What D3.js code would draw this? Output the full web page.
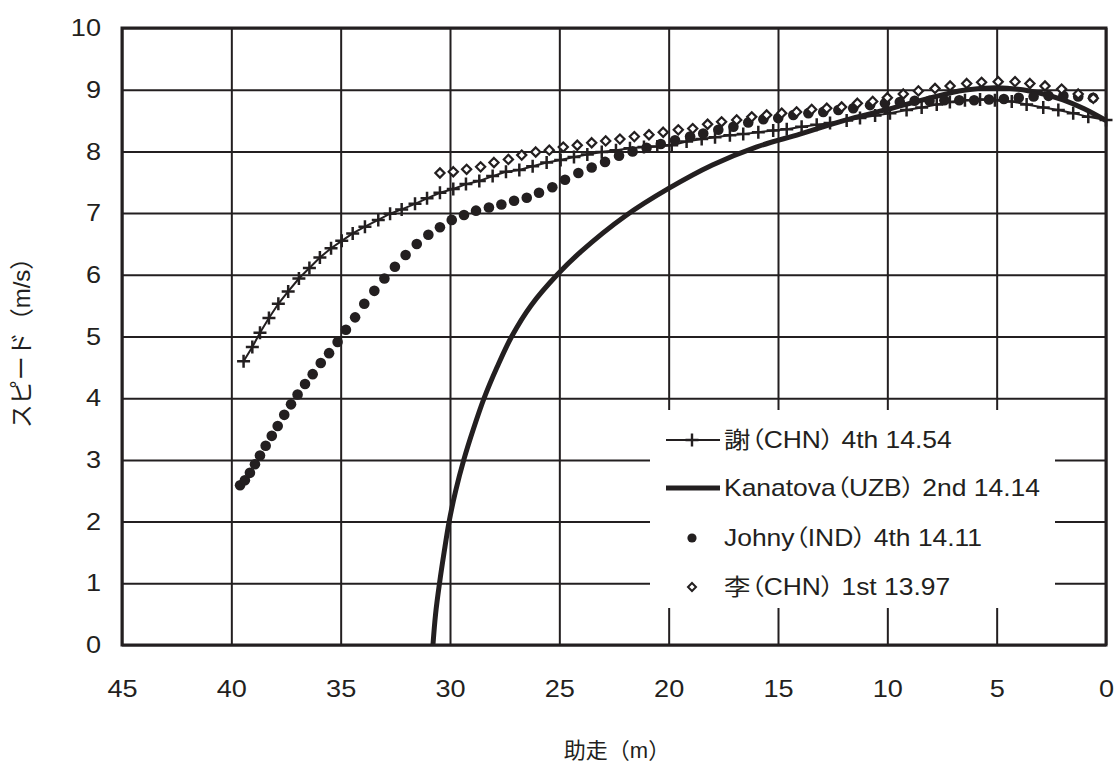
<!DOCTYPE html>
<html>
<head>
<meta charset="utf-8">
<script src="https://cdn.jsdelivr.net/npm/d3@7"></script>
<style>
  body { margin: 0; background: #fff; }
  svg { display: block; }
  text { font-family: "Liberation Sans", Arial, "Noto Sans CJK JP", sans-serif; fill: #231f20; }
</style>
</head>
<body>
<svg id="chart" width="1117" height="767"></svg>
<script>
// ---------- data ----------
const xTicks = [45, 40, 35, 30, 25, 20, 15, 10, 5, 0];
const yTicks = [0, 1, 2, 3, 4, 5, 6, 7, 8, 9, 10];

// 謝 (CHN) - line with + markers
const xieDist = [39.44,39.04,38.69,38.28,37.85,37.40,36.91,36.43,35.95,35.44,34.95,34.45,33.89,33.28,32.74,32.21,31.60,31.05,30.46,29.85,29.27,28.66,28.05,27.44,26.83,26.22,25.58,24.94,24.33,23.72,23.06,22.41,21.77,21.13,20.52,19.86,19.18,18.49,17.88,17.20,16.59,15.90,15.22,14.60,13.92,13.23,12.62,11.86,11.25,10.56,9.88,9.12,8.43,7.74,7.14,6.45,5.76,5.08,4.31,3.63,2.87,2.18,1.50,0.81,0.00];
const xieSpeed = [4.60,4.83,5.06,5.30,5.53,5.73,5.94,6.11,6.28,6.43,6.55,6.67,6.78,6.89,6.99,7.06,7.15,7.24,7.33,7.39,7.47,7.52,7.60,7.67,7.70,7.76,7.82,7.86,7.91,7.95,7.99,8.02,8.05,8.07,8.08,8.10,8.16,8.20,8.23,8.26,8.28,8.31,8.34,8.36,8.40,8.43,8.46,8.50,8.54,8.58,8.62,8.67,8.71,8.76,8.80,8.83,8.84,8.83,8.81,8.76,8.71,8.67,8.62,8.56,8.51];

// Kanatova (UZB) - thick line
const kanDist = [30.78,30.66,30.48,30.27,30.04,29.74,29.37,28.93,28.44,27.85,27.18,26.30,25.10,24.00,22.00,20.00,18.00,16.00,14.00,12.00,10.00,8.00,6.50,5.00,3.50,2.00,1.00,0.00];
const kanSpeed = [0.00,0.50,1.00,1.50,2.00,2.50,3.00,3.50,4.00,4.50,5.00,5.50,6.00,6.38,6.95,7.40,7.78,8.07,8.28,8.50,8.68,8.87,8.99,9.03,8.98,8.84,8.69,8.50];

// Johny (IND) - filled circles
const johDist = [39.60,39.38,39.15,38.92,38.69,38.43,38.15,37.88,37.58,37.27,36.97,36.63,36.28,35.91,35.53,35.14,34.76,34.34,33.92,33.46,33.00,32.52,32.03,31.52,30.99,30.46,29.92,29.36,28.81,28.22,27.65,27.07,26.49,25.93,25.32,24.74,24.13,23.52,22.91,22.27,21.65,21.01,20.36,19.71,19.02,18.42,17.73,17.04,16.36,15.67,14.99,14.30,13.61,12.93,12.24,11.56,10.79,10.11,9.43,8.75,8.07,7.39,6.71,6.03,5.35,4.67,3.99,3.31,2.63,1.95,1.27,0.59];
const johSpeed = [2.59,2.67,2.79,2.93,3.07,3.23,3.39,3.55,3.73,3.90,4.06,4.23,4.39,4.57,4.73,4.91,5.11,5.31,5.53,5.74,5.94,6.13,6.32,6.50,6.65,6.77,6.89,6.97,7.04,7.09,7.14,7.20,7.25,7.33,7.42,7.54,7.65,7.74,7.83,7.93,8.00,8.06,8.12,8.18,8.24,8.29,8.35,8.40,8.47,8.52,8.54,8.59,8.62,8.64,8.67,8.70,8.75,8.78,8.80,8.82,8.82,8.83,8.83,8.83,8.84,8.85,8.87,8.89,8.90,8.90,8.89,8.87];

// 李 (CHN) - open diamonds
const liDist = [30.46,29.85,29.24,28.60,27.99,27.33,26.72,26.08,25.46,24.82,24.18,23.52,22.88,22.23,21.57,20.90,20.25,19.56,18.90,18.22,17.58,16.89,16.20,15.52,14.83,14.15,13.46,12.77,12.09,11.37,10.67,10.00,9.27,8.58,7.82,7.13,6.37,5.69,4.93,4.16,3.48,2.79,2.03,1.27,0.58];
const liSpeed = [7.65,7.67,7.71,7.75,7.82,7.87,7.94,7.99,8.02,8.07,8.10,8.14,8.17,8.20,8.24,8.27,8.31,8.35,8.37,8.44,8.48,8.51,8.56,8.59,8.62,8.64,8.68,8.70,8.72,8.78,8.81,8.87,8.93,8.98,9.02,9.06,9.10,9.12,9.13,9.13,9.10,9.06,9.01,8.93,8.86];

const legendLabels = ["謝（CHN） 4th 14.54", "Kanatova（UZB） 2nd 14.14", "Johny（IND） 4th 14.11", "李（CHN） 1st 13.97"];
const xTitle = "助走（m）";
const yTitle = "スピード（m/s）";

// ---------- layout ----------
const ink = "#231f20";
const margin = { top: 28, right: 11, bottom: 122, left: 122 };
const width = 1117, height = 767;
const innerW = width - margin.left - margin.right;   // 984
const innerH = height - margin.top - margin.bottom;  // 617
const wide = 1.13; // the source type is a little wider than Liberation Sans

const svg = d3.select("#chart");
const g = svg.append("g").attr("transform", `translate(${margin.left},${margin.top})`);

const x = d3.scaleLinear().domain([45, 0]).range([0, innerW]);
const y = d3.scaleLinear().domain([0, 10]).range([innerH, 0]);

const zip = (a, b) => a.map((d, i) => [d, b[i]]);

// grid
g.append("g")
  .call(d3.axisBottom(x).tickValues(xTicks).tickSize(innerH).tickFormat(""))
  .call(s => s.select(".domain").remove())
  .selectAll("line").attr("stroke", ink).attr("stroke-width", 2);
g.append("g")
  .call(d3.axisLeft(y).tickValues(yTicks).tickSize(-innerW).tickFormat(""))
  .call(s => s.select(".domain").remove())
  .selectAll("line").attr("stroke", ink).attr("stroke-width", 2);

// legend background covers the grid
const lg = { x: 650 - margin.left, y: 410 - margin.top, w: 405, h: 198 };
g.append("rect").attr("x", lg.x).attr("y", lg.y).attr("width", lg.w).attr("height", lg.h).attr("fill", "#fff");

// frame
g.append("rect").attr("width", innerW).attr("height", innerH)
  .attr("fill", "none").attr("stroke", ink).attr("stroke-width", 3);

// tick labels
const xAx = g.append("g").attr("transform", `translate(0,${innerH})`)
  .call(d3.axisBottom(x).tickValues(xTicks).tickSize(0).tickPadding(35).tickFormat(d3.format("d")));
xAx.select(".domain").remove();
xAx.selectAll("text").attr("font-size", 24).attr("fill", ink)
  .attr("transform", `scale(${wide},1)`)
  .style("font-family", "'Liberation Sans', Arial, sans-serif");

const yAx = g.append("g")
  .call(d3.axisLeft(y).tickValues(yTicks).tickSize(0).tickPadding(21 / wide).tickFormat(d3.format("d")));
yAx.select(".domain").remove();
yAx.selectAll("text").attr("font-size", 24).attr("fill", ink)
  .attr("transform", `scale(${wide},1)`)
  .style("font-family", "'Liberation Sans', Arial, sans-serif");

// axis titles
svg.append("text").attr("transform", "translate(617,758)").attr("text-anchor", "middle")
  .attr("font-size", 22).text(xTitle);
svg.append("text").attr("transform", "translate(30,337) rotate(-90)").attr("text-anchor", "middle")
  .attr("font-size", 24).text(yTitle);

// ---------- series ----------
// Kanatova thick line
g.append("path").datum(zip(kanDist, kanSpeed))
  .attr("d", d3.line().x(d => x(d[0])).y(d => y(d[1])).curve(d3.curveCatmullRom.alpha(0.5)))
  .attr("fill", "none").attr("stroke", ink).attr("stroke-width", 5);

// 謝 line + plus markers
const xie = zip(xieDist, xieSpeed);
g.append("path").datum(xie)
  .attr("d", d3.line().x(d => x(d[0])).y(d => y(d[1])))
  .attr("fill", "none").attr("stroke", ink).attr("stroke-width", 2);
const plusPath = s => `M${-s},0H${s}M0,${-s}V${s}`;
g.append("g").selectAll("path").data(xie).join("path")
  .attr("transform", d => `translate(${x(d[0])},${y(d[1])})`)
  .attr("d", plusPath(6.5))
  .attr("stroke", ink).attr("stroke-width", 2.5).attr("fill", "none");

// Johny circles
g.append("g").selectAll("circle").data(zip(johDist, johSpeed)).join("circle")
  .attr("cx", d => x(d[0])).attr("cy", d => y(d[1])).attr("r", 5.3)
  .attr("fill", ink);

// 李 diamonds
const diamond = s => `M0,${-s}L${s},0L0,${s}L${-s},0Z`;
g.append("g").selectAll("path").data(zip(liDist, liSpeed)).join("path")
  .attr("transform", d => `translate(${x(d[0])},${y(d[1])})`)
  .attr("d", diamond(4.6))
  .attr("fill", "#fff").attr("stroke", ink).attr("stroke-width", 2.2);

// ---------- legend ----------
const rowsY = [440, 488, 538, 587];
const lx0 = 666, lx1 = 720, lmid = 692, ltx = 724;
const leg = svg.append("g");

leg.append("line").attr("x1", lx0).attr("x2", lx1).attr("y1", rowsY[0]).attr("y2", rowsY[0])
  .attr("stroke", ink).attr("stroke-width", 2);
leg.append("path").attr("transform", `translate(${lmid},${rowsY[0]})`).attr("d", plusPath(6.5))
  .attr("stroke", ink).attr("stroke-width", 2.4);
leg.append("line").attr("x1", lx0).attr("x2", lx1).attr("y1", rowsY[1]).attr("y2", rowsY[1])
  .attr("stroke", ink).attr("stroke-width", 5);
leg.append("circle").attr("cx", lmid).attr("cy", rowsY[2]).attr("r", 4.6).attr("fill", ink);
leg.append("path").attr("transform", `translate(${lmid},${rowsY[3]})`).attr("d", diamond(4))
  .attr("fill", "#fff").attr("stroke", ink).attr("stroke-width", 2);

leg.selectAll("text.lab").data(legendLabels).join("text")
  .attr("class", "lab")
  .attr("transform", (d, i) => `translate(${ltx},${rowsY[i]}) scale(1.15,1)`)
  .attr("dy", "0.36em")
  .attr("font-size", 23)
  .style("font-feature-settings", "'palt'")
  .text(d => d);
</script>
</body>
</html>
